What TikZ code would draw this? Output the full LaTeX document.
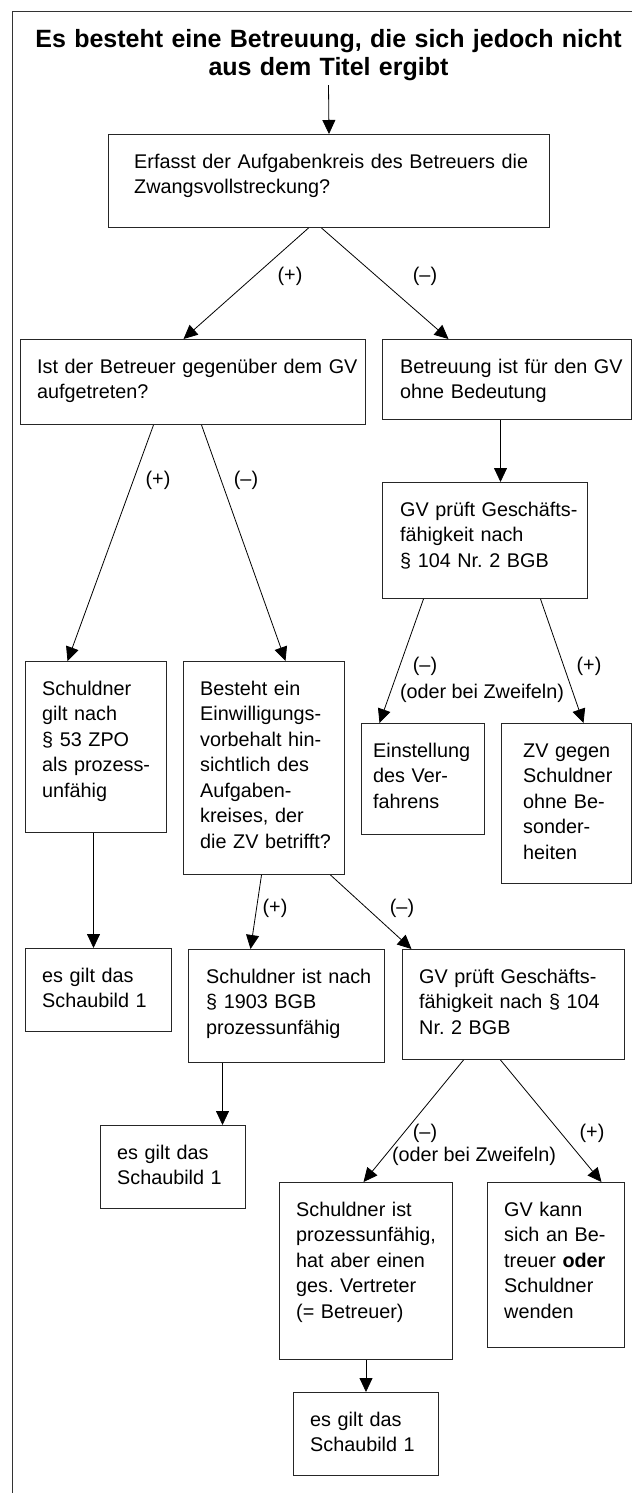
\documentclass[tikz,border=0pt]{standalone}
\usepackage{fontspec}
\setmainfont{Liberation Sans}
\frenchspacing
\usetikzlibrary{arrows.meta}

\begin{document}
\begin{tikzpicture}[
  x=1pt, y=-1pt,
  box/.style={draw=black!85, line width=1pt, anchor=north west, inner sep=0pt},
  boxtext/.style={anchor=base west, align=left, text width=460pt, inner sep=0pt,
    xshift=#1, yshift=-34pt, font=\fontsize{19.8}{25.5}\selectfont},
  boxtext/.default=17pt,
  arr/.style={-{Triangle[length=14pt, width=13pt]}, line width=0.8pt, draw=black},
  lbl/.style={inner sep=0pt, font=\fontsize{19.8}{25.5}\selectfont}
]
  \useasboundingbox (0,0) rectangle (632,1493);

  % Rahmen (rechts und unten abgeschnitten)
  \draw[draw=black!80, line width=1pt] (632,12) -- (12.5,12) -- (12.5,1493);

  % Titel
  \node[anchor=base, align=center, text width=620pt, inner sep=4pt,
    font=\fontsize{25}{27.7}\selectfont\bfseries] (title) at (328.5,48)
    {Es besteht eine Betreuung, die sich jedoch nicht\\aus dem Titel ergibt};

  % Ebene 1
  \node[box, minimum width=441pt, minimum height=93pt,
    label={[boxtext=26pt]north west:{Erfasst der Aufgabenkreis des Betreuers die\\Zwangsvollstreckung?}}] (q1) at (108,134) {};

  % Ebene 2
  \node[box, minimum width=345pt, minimum height=85pt,
    label={[boxtext]north west:{Ist der Betreuer gegenüber dem GV\\aufgetreten?}}] (q2) at (20,339) {};
  \node[box, minimum width=249pt, minimum height=80pt,
    label={[boxtext=18pt]north west:{Betreuung ist für den GV\\ohne Bedeutung}}] (q3) at (382,339) {};

  % Ebene 3
  \node[box, minimum width=205pt, minimum height=116pt,
    label={[boxtext=18pt]north west:{GV prüft Geschäfts-\\fähigkeit nach\\§ 104 Nr. 2 BGB}}] (q4) at (382,482) {};
  \node[box, minimum width=141pt, minimum height=171pt,
    label={[boxtext]north west:{Schuldner\\gilt nach\\§ 53 ZPO\\als prozess-\\unfähig}}] (q5) at (25,661) {};
  \node[box, minimum width=161pt, minimum height=213pt,
    label={[boxtext]north west:{Besteht ein\\Einwilligungs-\\vorbehalt hin-\\sichtlich des\\Aufgaben-\\kreises, der\\die ZV betrifft?}}] (q6) at (183,661) {};
  \node[box, minimum width=123pt, minimum height=111pt,
    label={[boxtext=12pt]north west:{Einstellung\\des Ver-\\fahrens}}] (q7) at (361,723) {};
  \node[box, minimum width=130pt, minimum height=160pt,
    label={[boxtext=22pt]north west:{ZV gegen\\Schuldner\\ohne Be-\\sonder-\\heiten}}] (q8) at (501,723) {};

  % Ebene 4
  \node[box, minimum width=146pt, minimum height=83pt,
    label={[boxtext]north west:{es gilt das\\Schaubild 1}}] (q9) at (25,948) {};
  \node[box, minimum width=196pt, minimum height=113pt,
    label={[boxtext=18pt]north west:{Schuldner ist nach\\§ 1903 BGB\\prozessunfähig}}] (q10) at (188,949) {};
  \node[box, minimum width=222pt, minimum height=110pt,
    label={[boxtext]north west:{GV prüft Geschäfts-\\fähigkeit nach § 104\\Nr. 2 BGB}}] (q11) at (402,949) {};

  % Ebene 5
  \node[box, minimum width=145pt, minimum height=83pt,
    label={[boxtext]north west:{es gilt das\\Schaubild 1}}] (q12) at (100,1125) {};
  \node[box, minimum width=173pt, minimum height=177pt,
    label={[boxtext]north west:{Schuldner ist\\prozessunfähig,\\hat aber einen\\ges. Vertreter\\(= Betreuer)}}] (q13) at (279,1182) {};
  \node[box, minimum width=137pt, minimum height=165pt,
    label={[boxtext]north west:{GV kann\\sich an Be-\\treuer \textbf{oder}\\Schuldner\\wenden}}] (q14) at (487,1182) {};
  \node[box, minimum width=145pt, minimum height=83pt,
    label={[boxtext]north west:{es gilt das\\Schaubild 1}}] (q15) at (293,1392) {};

  % Pfeile
  \draw[arr] (title.south) -- (q1.north);
  \draw[arr] ([xshift=-20.5pt]q1.south) -- ([xshift=-9.5pt]q2.north);
  \draw[arr] ([xshift=-7.5pt]q1.south) -- ([xshift=-58.5pt]q3.north);
  \draw[arr] ([xshift=-6.5pt]q3.south) -- ([xshift=-6.5pt]q3.south |- q4.north);
  \draw[arr] ([xshift=-39.5pt]q2.south) -- ([xshift=-28.5pt]q5.north);
  \draw[arr] ([xshift=8.5pt]q2.south) -- ([xshift=21.5pt]q6.north);
  \draw[arr] ([xshift=-61.5pt]q4.south) -- ([xshift=-43.5pt]q7.north);
  \draw[arr] ([xshift=55.5pt]q4.south) -- ([xshift=17pt]q8.north);
  \draw[arr] ([xshift=-2.5pt]q5.south) -- ([xshift=-2.5pt]q5.south |- q9.north);
  \draw[arr] ([xshift=-2.5pt]q6.south) -- ([xshift=-36pt]q10.north);
  \draw[arr] ([xshift=66.5pt]q6.south) -- ([xshift=-102pt]q11.north);
  \draw[arr] ([xshift=-64pt]q10.south) -- ([xshift=-64pt]q10.south |- q12.north);
  \draw[arr] ([xshift=-50pt]q11.south) -- ([xshift=-2.5pt]q13.north);
  \draw[arr] ([xshift=-13pt]q11.south) -- ([xshift=45.5pt]q14.north);
  \draw[arr] (q13.south) -- (q13.south |- q15.north);

  % Beschriftungen
  \node[lbl] (l1p) at (290,276) {(+)};
  \node[lbl] (l1m) at (425,276) {(–)};
  \node[lbl] (l2p) at (158,480) {(+)};
  \node[lbl] (l2m) at (246,480) {(–)};
  \node[lbl] (l3m) at (425,666) {(–)};
  \node[lbl] (l3z) at (482,693) {(oder bei Zweifeln)};
  \node[lbl] (l3p) at (589,666) {(+)};
  \node[lbl] (l4p) at (275,908) {(+)};
  \node[lbl] (l4m) at (402,908) {(–)};
  \node[lbl] (l5m) at (425,1133) {(–)};
  \node[lbl] (l5z) at (474,1156) {(oder bei Zweifeln)};
  \node[lbl] (l5p) at (592,1133) {(+)};
\end{tikzpicture}
\end{document}
